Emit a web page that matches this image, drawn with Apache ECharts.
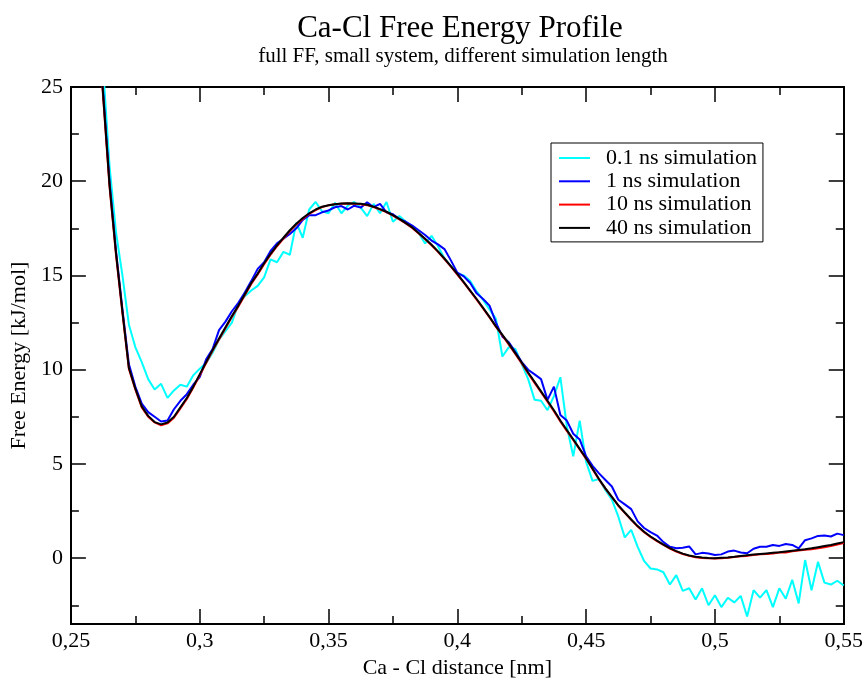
<!DOCTYPE html>
<html>
<head>
<meta charset="utf-8">
<script src="https://cdn.jsdelivr.net/npm/echarts@6/dist/echarts.min.js"></script>
<style>html,body{margin:0;padding:0;background:#fff}#c{width:866px;height:684px}</style>
</head>
<body>
<div id="c"></div>
<script>
var xs = [0.26,0.2625,0.265,0.2675,0.27,0.2725,0.275,0.2775,0.28,0.2825,0.285,0.2875,0.29,0.2925,0.295,0.2975,
0.30,0.3025,0.305,0.3075,0.31,0.3125,0.315,0.3175,0.32,0.3225,0.325,0.3275,0.33,0.3325,0.335,0.3375,
0.34,0.3425,0.345,0.3475,0.35,0.3525,0.355,0.3575,0.36,0.3625,0.365,0.3675,0.37,0.3725,0.375,0.3775,
0.38,0.3825,0.385,0.3875,0.39,0.3925,0.395,0.3975,0.40,0.4025,0.405,0.4075,0.41,0.4125,0.415,0.4175,
0.42,0.4225,0.425,0.4275,0.43,0.4325,0.435,0.4375,0.44,0.4425,0.445,0.4475,0.45,0.4525,0.455,0.4575,
0.46,0.4625,0.465,0.4675,0.47,0.4725,0.475,0.4775,0.48,0.4825,0.485,0.4875,0.49,0.4925,0.495,0.4975,
0.50,0.5025,0.505,0.5075,0.51,0.5125,0.515,0.5175,0.52,0.5225,0.525,0.5275,0.53,0.5325,0.535,0.5375,
0.54,0.5425,0.545,0.5475,0.55];

var sim01 = [30.5,26.0,20.8,17.3,15.0,12.4,11.2,10.4,9.5,8.95,9.25,8.5,8.9,9.2,9.1,9.7,
10.05,10.35,10.9,11.6,12.05,12.5,13.5,13.9,14.2,14.45,14.9,15.85,15.7,16.25,16.1,17.8,
17.0,18.5,18.9,18.4,18.3,18.85,18.3,18.7,18.9,18.6,18.15,18.8,18.3,18.9,17.85,18.15,
17.85,17.6,17.25,16.7,17.1,16.55,15.9,15.5,15.1,15.0,14.7,14.15,13.7,13.2,12.7,10.7,
11.2,11.1,10.3,9.5,8.4,8.35,7.85,8.6,9.6,7.0,5.4,7.3,5.1,4.1,4.2,3.6,
3.1,2.2,1.1,1.5,0.6,-0.15,-0.55,-0.6,-0.75,-1.4,-0.9,-1.74,-1.6,-2.2,-1.6,-2.5,
-1.97,-2.6,-2.1,-2.35,-2.0,-3.1,-1.7,-2.1,-1.7,-2.6,-1.6,-2.15,-1.15,-2.4,-0.1,-1.7,
-0.2,-1.3,-1.4,-1.2,-1.45];

var sim1 = [29.5,24.8,20.0,16.3,13.2,10.3,9.1,8.2,7.75,7.5,7.25,7.3,7.9,8.35,8.7,9.2,
9.6,10.55,11.1,12.1,12.55,13.1,13.55,14.1,14.7,15.35,15.7,16.3,16.7,16.95,17.2,17.5,
17.95,18.2,18.2,18.35,18.45,18.62,18.68,18.5,18.7,18.6,18.88,18.62,18.8,18.35,18.25,18.0,
17.85,17.65,17.4,17.15,16.85,16.65,16.4,15.8,15.15,14.95,14.6,14.05,13.75,13.4,12.5,11.75,
11.45,10.95,10.4,10.0,9.75,9.5,8.4,9.1,7.6,7.3,6.6,6.3,5.4,4.9,4.5,4.15,
3.8,3.1,2.85,2.6,1.95,1.6,1.38,1.2,0.85,0.6,0.52,0.55,0.62,0.2,0.28,0.25,
0.17,0.2,0.35,0.4,0.3,0.26,0.5,0.6,0.6,0.7,0.65,0.75,0.7,0.52,0.95,1.05,
1.18,1.2,1.15,1.3,1.22];

var sim10 = [29.4,24.5,19.7,16.1,13.0,10.05,8.95,8.0,7.5,7.2,7.05,7.15,7.45,7.95,8.45,9.05,
9.7,10.35,11.0,11.6,12.2,12.8,13.35,13.95,14.55,15.05,15.6,16.1,16.55,16.95,17.35,17.7,
18.0,18.27,18.47,18.63,18.72,18.78,18.81,18.82,18.8,18.78,18.73,18.63,18.5,18.36,18.18,17.98,
17.76,17.52,17.22,16.92,16.6,16.25,15.87,15.47,15.05,14.62,14.17,13.72,13.25,12.77,12.27,11.82,
11.33,10.83,10.33,9.8,9.3,8.8,8.3,7.8,7.25,6.75,6.27,5.77,5.27,4.72,4.17,3.68,
3.23,2.78,2.4,2.03,1.68,1.38,1.12,0.9,0.7,0.51,0.35,0.22,0.12,0.05,0.01,-0.01,
-0.02,0.0,0.02,0.06,0.1,0.12,0.17,0.2,0.22,0.24,0.3,0.3,0.36,0.4,0.44,0.47,
0.52,0.58,0.64,0.72,0.8];

var sim40 = [29.5,24.6,19.8,16.2,13.1,10.1,9.0,8.05,7.55,7.22,7.1,7.2,7.5,8.0,8.5,9.1,
9.75,10.4,11.05,11.65,12.25,12.85,13.4,14.0,14.6,15.1,15.65,16.15,16.6,17.0,17.4,17.75,
18.05,18.3,18.5,18.65,18.72,18.78,18.82,18.83,18.82,18.8,18.75,18.65,18.52,18.38,18.2,18.0,
17.78,17.55,17.25,16.95,16.63,16.28,15.9,15.5,15.08,14.65,14.2,13.75,13.28,12.8,12.3,11.85,
11.38,10.88,10.38,9.85,9.35,8.85,8.35,7.85,7.3,6.8,6.3,5.8,5.3,4.75,4.2,3.7,
3.25,2.8,2.42,2.05,1.7,1.4,1.15,0.93,0.72,0.53,0.37,0.24,0.14,0.07,0.03,0.01,
0.0,0.02,0.04,0.07,0.11,0.15,0.19,0.22,0.25,0.28,0.31,0.35,0.39,0.43,0.47,0.52,
0.58,0.64,0.7,0.78,0.85];

var seriesNames = ['0.1 ns simulation','1 ns simulation','10 ns simulation','40 ns simulation'];
var seriesColors = ['#00ffff','#0000ff','#ff0000','#000000'];
var xMajorTicks = [0.25,0.3,0.35,0.4,0.45,0.5,0.55];
var xMinorTicks = [0.275,0.325,0.375,0.425,0.475,0.525];
var yMajorTicks = [0,5,10,15,20,25];
var yMinorTicks = [-2.5,2.5,7.5,12.5,17.5,22.5];

var FONT = 'Liberation Serif';
function pairs(ys){ return xs.map(function(x,i){ return [x, ys[i]]; }); }
var allData = [sim01, sim1, sim10, sim40];

function xAx(pos, ticks, len, labels, extra){
  var a = {
    type:'value', position:pos, min:0.25, max:0.55,
    axisLine:{show:true, onZero:false, lineStyle:{color:'#000', width:2}},
    axisTick:{show:true, inside:true, length:len, customValues:ticks, lineStyle:{color:'#000', width:1.5}},
    axisLabel:{show:labels, customValues:ticks, color:'#000', fontFamily:FONT, fontSize:22, margin:6,
      formatter:function(v){ return String(v).replace('.', ','); }},
    splitLine:{show:false}
  };
  return Object.assign(a, extra||{});
}
function yAx(pos, ticks, len, labels, extra){
  var a = {
    type:'value', position:pos, min:-3.5, max:25,
    axisLine:{show:true, onZero:false, lineStyle:{color:'#000', width:2}},
    axisTick:{show:true, inside:true, length:len, customValues:ticks, lineStyle:{color:'#000', width:1.5}},
    axisLabel:{show:labels, customValues:ticks, color:'#000', fontFamily:FONT, fontSize:22, margin:8},
    splitLine:{show:false}
  };
  return Object.assign(a, extra||{});
}

var chart = echarts.init(document.getElementById('c'), null, {renderer:'canvas'});
chart.setOption({
  backgroundColor:'#ffffff',
  animation:false,
  title:[
    {text:'Ca-Cl Free Energy Profile', left:455, top:8, textAlign:'center',
     textStyle:{fontFamily:FONT, fontSize:31, fontWeight:'normal', color:'#000'}},
    {text:'full FF, small system, different simulation length', left:458, top:41, textAlign:'center',
     textStyle:{fontFamily:FONT, fontSize:21, fontWeight:'normal', color:'#000'}}
  ],
  grid:{left:68, right:20, top:87, bottom:52, containLabel:false},
  legend:{
    orient:'vertical', left:551, top:143, padding:[4,6,3,8],
    icon:'rect', itemWidth:31, itemHeight:2, itemGap:1.3,
    borderColor:'#000', borderWidth:1, backgroundColor:'#fff',
    textStyle:{fontFamily:FONT, fontSize:22, color:'#000', padding:[0,0,0,11]},
    data:seriesNames
  },
  xAxis:[
    xAx('bottom', xMajorTicks, 15, true, {name:'Ca - Cl distance [nm]', nameLocation:'middle', nameGap:29,
      nameTextStyle:{fontFamily:FONT, fontSize:22, color:'#000'}}),
    xAx('bottom', xMinorTicks, 8, false),
    xAx('top', xMajorTicks, 15, false),
    xAx('top', xMinorTicks, 8, false)
  ],
  yAxis:[
    yAx('left', yMajorTicks, 15, true, {name:'Free Energy [kJ/mol]', nameLocation:'middle', nameGap:40,
      nameTextStyle:{fontFamily:FONT, fontSize:22, color:'#000'}}),
    yAx('left', yMinorTicks, 8, false),
    yAx('right', yMajorTicks, 15, false),
    yAx('right', yMinorTicks, 8, false)
  ],
  series: allData.map(function(d, i){
    return {
      name:seriesNames[i], type:'line', xAxisIndex:0, yAxisIndex:0,
      data:pairs(d), symbol:'none', showSymbol:false, clip:true, smooth:false,
      lineStyle:{color:seriesColors[i], width:2}, itemStyle:{color:seriesColors[i]},
      z:2+i
    };
  })
});
</script>
</body>
</html>
